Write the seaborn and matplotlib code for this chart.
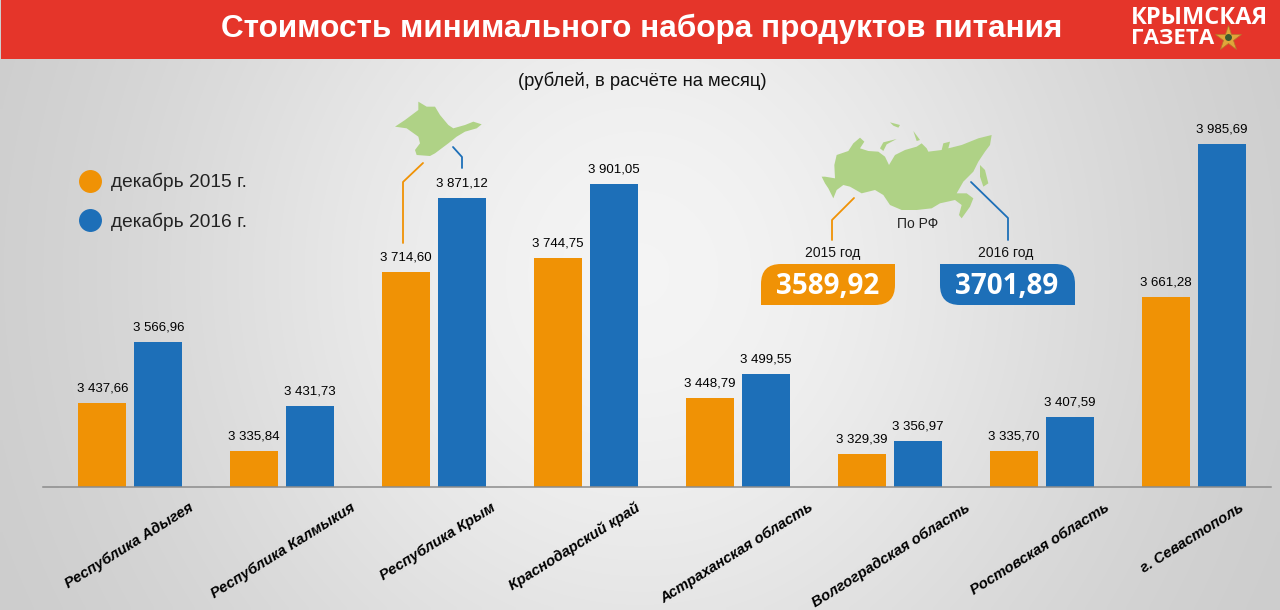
import numpy as np
import pandas as pd
import matplotlib
matplotlib.use("Agg")
import matplotlib.pyplot as plt
import seaborn as sns
from matplotlib.colors import LinearSegmentedColormap
from matplotlib.lines import Line2D
from matplotlib.patches import PathPatch, Polygon, Rectangle
from matplotlib.path import Path
from matplotlib.transforms import ScaledTranslation

regions = ["Республика Адыгея", "Республика Калмыкия", "Республика Крым", "Краснодарский край",
           "Астраханская область", "Волгоградская область", "Ростовская область", "г. Севастополь"]
values_2015 = [3437.66, 3335.84, 3714.60, 3744.75, 3448.79, 3329.39, 3335.70, 3661.28]
values_2016 = [3566.96, 3431.73, 3871.12, 3901.05, 3499.55, 3356.97, 3407.59, 3985.69]
series_names = ["декабрь 2015 г.", "декабрь 2016 г."]
label_shift_px = [62, 72, 60, 53, 74, 79, 67, 49]

ORANGE = "#F09205"
BLUE = "#1D6FB8"
RED = "#E5352A"
GREEN = "#AFD286"
SANS = ["Liberation Sans", "DejaVu Sans"]

russia = [(20,185),(30,185),(60,190),(58,150),(65,120),(100,108),(115,85),(135,68),(148,80),(135,100),
          (160,108),(190,110),(210,125),(222,150),(240,120),
          (270,105),(305,95),(320,85),(335,100),(340,110),(380,105),(385,85),(405,80),(400,100),(440,90),
          (490,70),(530,60),(525,90),(510,110),(490,140),(475,170),(445,200),(425,235),(455,235),(475,250),
          (465,275),(440,310),(432,300),(440,270),(420,255),(375,265),(350,280),(305,285),(260,285),(225,270),
          (205,240),(180,225),(140,235),(105,215),(85,210),(65,225),(55,250),(40,220),(30,205)]
sakhalin = [(495,150),(510,165),(520,205),(505,215),(495,185)]
novaya = [(225,22),(255,30),(250,38),(235,32)]
severnaya = [(295,48),(315,75),(305,78)]
yamal_arc = [(195,100),(205,82),(245,72),(215,88),(205,108)]
crimea = [(30,95),(60,75),(100,45),(100,20),(125,35),(150,35),(165,60),(190,90),(205,100),(240,90),(265,80),
          (290,88),(275,100),(240,110),(215,125),(190,145),(150,175),(135,183),(95,180),(90,165),(105,145),
          (100,125),(65,100)]


def crop_px(pts, x0, y0):
    return [(x0 + x / 3, y0 + y / 3) for x, y in pts]


def rounded_box(x0, y0, x1, y1, r, corners):
    # corners: which of tl, tr, br, bl are rounded
    tl, tr, br, bl = [r if c else 0 for c in corners]
    verts = [(x0 + tl, y0), (x1 - tr, y0), (x1, y0), (x1, y0 + tr), (x1, y1 - br), (x1, y1), (x1 - br, y1),
             (x0 + bl, y1), (x0, y1), (x0, y1 - bl), (x0, y0 + tl), (x0, y0), (x0 + tl, y0)]
    codes = [Path.MOVETO, Path.LINETO, Path.CURVE3, Path.CURVE3, Path.LINETO, Path.CURVE3, Path.CURVE3,
             Path.LINETO, Path.CURVE3, Path.CURVE3, Path.LINETO, Path.CURVE3, Path.CURVE3]
    return Path(verts, codes)


sns.set_theme(style="white")
plt.rcParams["font.family"] = SANS

W, H = 1280, 610
fig = plt.figure(figsize=(12.8, 6.1), dpi=100)

# background gradient
bg = fig.add_axes([0, 0, 1, 1], zorder=0)
yy, xx = np.mgrid[0:1:122j, 0:1:256j]
glow = np.exp(-(((xx - 0.5) / 0.4) ** 2 + ((yy - 0.45) / 0.9) ** 2))
bg.imshow(glow, cmap=LinearSegmentedColormap.from_list("g", ["#CDCDCD", "#F4F4F4"]),
          extent=(0, W, H, 0), aspect="auto", interpolation="bilinear")
bg.set_xlim(0, W)
bg.set_ylim(H, 0)
bg.axis("off")

# bars
df = pd.DataFrame({"region": regions * 2,
                   "value": values_2015 + values_2016,
                   "series": [series_names[0]] * 8 + [series_names[1]] * 8})
ax = fig.add_axes([43 / W, 1 - 487 / H, (1271 - 43) / W, (487 - 100) / H], zorder=1)
ax.patch.set_alpha(0)
sns.barplot(data=df, x="region", y="value", hue="series", palette=[ORANGE, BLUE],
            width=0.737, gap=0.143, saturation=1, legend=False, linewidth=0, ax=ax)
base = 3259.5
ax.set_ylim(base, base + 387 / 0.4723)
ax.set_xlim(-0.575, 7.51)
ax.set_xlabel("")
ax.set_ylabel("")
ax.set_yticks([])
sns.despine(ax=ax, left=True)
ax.spines["bottom"].set_color("#8C8C8C")
ax.spines["bottom"].set_linewidth(1.1)

for container in ax.containers:
    labels = [f"{v:,.2f}".replace(",", " ").replace(".", ",") for v in container.datavalues]
    ax.bar_label(container, labels=labels, padding=6, fontsize=9.5, color="#000000")

ax.set_xticks(range(len(regions)))
ax.set_xticklabels(regions, rotation=32, ha="right", va="center", rotation_mode="anchor",
                   fontsize=10.7, fontweight="bold", fontstyle="italic", color="#000000")
ax.tick_params(axis="x", length=0, pad=14)
for lab, shift in zip(ax.get_xticklabels(), label_shift_px):
    lab.set_transform(lab.get_transform() + ScaledTranslation(shift / 100, 0, fig.dpi_scale_trans))

handles = [Line2D([], [], marker="o", ls="", color=c, markersize=15.5) for c in (ORANGE, BLUE)]
ax.legend(handles, series_names, loc="upper left", bbox_to_anchor=(75 / W, 1 - 173 / H),
          bbox_transform=fig.transFigure, frameon=False, fontsize=13.8, labelspacing=1.09,
          handlelength=1.6, handletextpad=0.3, borderpad=0, borderaxespad=0, labelcolor="#222222")

# overlay: header, maps, callouts
top = fig.add_axes([0, 0, 1, 1], zorder=2)
top.set_xlim(0, W)
top.set_ylim(H, 0)
top.axis("off")
top.add_patch(Rectangle((1, 0), W, 59, color=RED, lw=0))
top.text(642, 29, "Стоимость минимального набора продуктов питания", color="white", ha="center",
         va="center", fontsize=22.7, fontweight="bold")
top.text(1131, 18, "КРЫМСКАЯ", color="white", va="center", fontsize=17, fontweight="bold", family="Open Sans")
top.text(1131, 39, "ГАЗЕТА", color="white", va="center", fontsize=16, fontweight="bold", family="Open Sans")
top.plot([1228], [38], marker="*", ms=19, color="#E0A63A", mec="#B5762A", mew=0.5)
top.plot([1228], [37], marker="o", ms=5, color="#3B5B30", mew=0)
top.text(642, 81, "(рублей, в расчёте на месяц)", color="#111111", ha="center", va="center", fontsize=13.2)

top.add_patch(Polygon(crop_px(crimea, 385, 95), color=GREEN, lw=0))
for shape in (russia, sakhalin, novaya, severnaya, yamal_arc):
    top.add_patch(Polygon(crop_px(shape, 815, 115), color=GREEN, lw=0))

top.plot([403, 403, 423], [243, 182, 163], color=ORANGE, lw=1.3)
top.plot([462, 462, 453], [168, 157, 147], color=BLUE, lw=1.3)
top.plot([854, 832, 832], [198, 220, 240], color=ORANGE, lw=1.3)
top.plot([971, 1008, 1008], [182, 218, 240], color=BLUE, lw=1.3)

top.text(918, 224, "По РФ", ha="center", va="center", fontsize=10, color="#222222")
top.text(833, 253, "2015 год", ha="center", va="center", fontsize=10, color="#111111")
top.text(1006, 253, "2016 год", ha="center", va="center", fontsize=10, color="#111111")
top.add_patch(PathPatch(rounded_box(761, 264, 895, 305, 20, (1, 0, 1, 0)), fc=ORANGE, lw=0))
top.add_patch(PathPatch(rounded_box(940, 264, 1075, 305, 20, (0, 1, 0, 1)), fc=BLUE, lw=0))
top.text(828, 286, "3589,92", color="white", ha="center", va="center", fontsize=20, fontweight="bold", family="Open Sans")
top.text(1007, 286, "3701,89", color="white", ha="center", va="center", fontsize=20, fontweight="bold", family="Open Sans")

fig.savefig("out.png", dpi=100)
